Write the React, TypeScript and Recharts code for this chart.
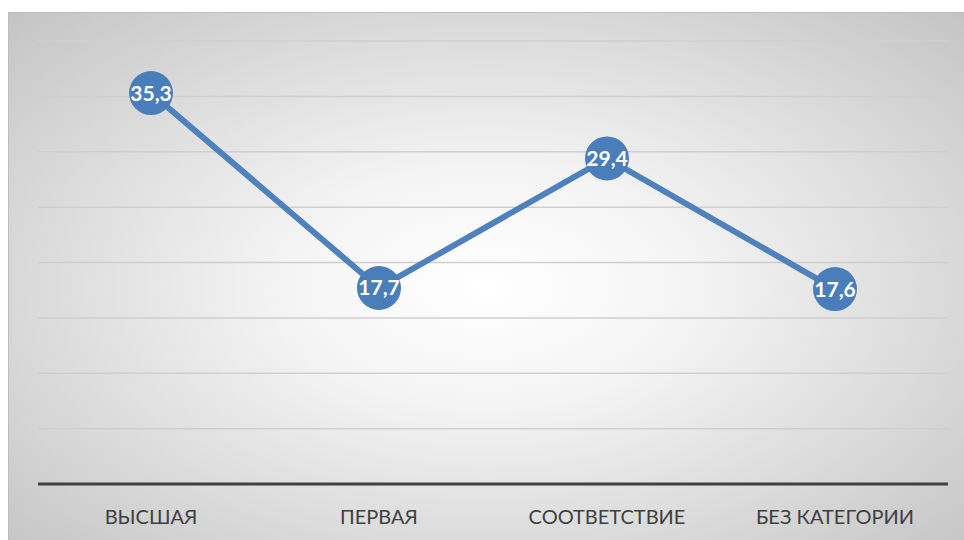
import { LineChart, Line, XAxis, YAxis, CartesianGrid, LabelList } from "recharts";

const categories = ["ВЫСШАЯ", "ПЕРВАЯ", "СООТВЕТСТВИЕ", "БЕЗ КАТЕГОРИИ"];
const values = [35.3, 17.7, 29.4, 17.6];
const yTicks = [0, 5, 10, 15, 20, 25, 30, 35, 40];

const data = categories.map((name, i) => ({ name, value: values[i] }));

const BLUE = "#4f81bd";

function Dot(props: any) {
  const { cx, cy } = props;
  return <circle cx={cx} cy={cy} r={22} fill="#4a7ebb" />;
}

export default function App() {
  return (
    <div
      style={{
        position: "absolute",
        left: 8,
        top: 12,
        width: 956,
        height: 528,
        borderTop: "1px solid #bdbdbd",
        borderLeft: "1px solid #bdbdbd",
        boxSizing: "border-box",
        background: "radial-gradient(ellipse at 50% 52%, #ffffff 0%, #f4f4f4 30%, #dcdcdc 65%, #c4c4c4 100%)",
      }}
    >
      <LineChart
        width={956}
        height={528}
        data={data}
        margin={{ top: 28, right: 17, bottom: 17, left: 29 }}
      >
        <CartesianGrid vertical={false} stroke="#cfcfcf" strokeWidth={1.5} />
        <YAxis hide domain={[0, 40]} ticks={yTicks} />
        <XAxis
          dataKey="name"
          padding={{ left: 113, right: 113 }}
          axisLine={{ stroke: "#404040", strokeWidth: 3 }}
          tickLine={false}
          height={40}
          tickMargin={20}
          tick={{ fill: "#404040", fontSize: 20, fontFamily: "Lato, 'Open Sans', sans-serif" }}
        />
        <Line
          dataKey="value"
          stroke={BLUE}
          strokeWidth={6}
          dot={<Dot />}
          activeDot={false}
          isAnimationActive={false}
        >
          <LabelList
            dataKey="value"
            position="center"
            formatter={(v: any) => String(v).replace(".", ",")}
            fill="#ffffff"
            fontSize={21}
            fontWeight="bold"
            fontFamily="Lato, 'Open Sans', sans-serif"
          />
        </Line>
      </LineChart>
    </div>
  );
}
